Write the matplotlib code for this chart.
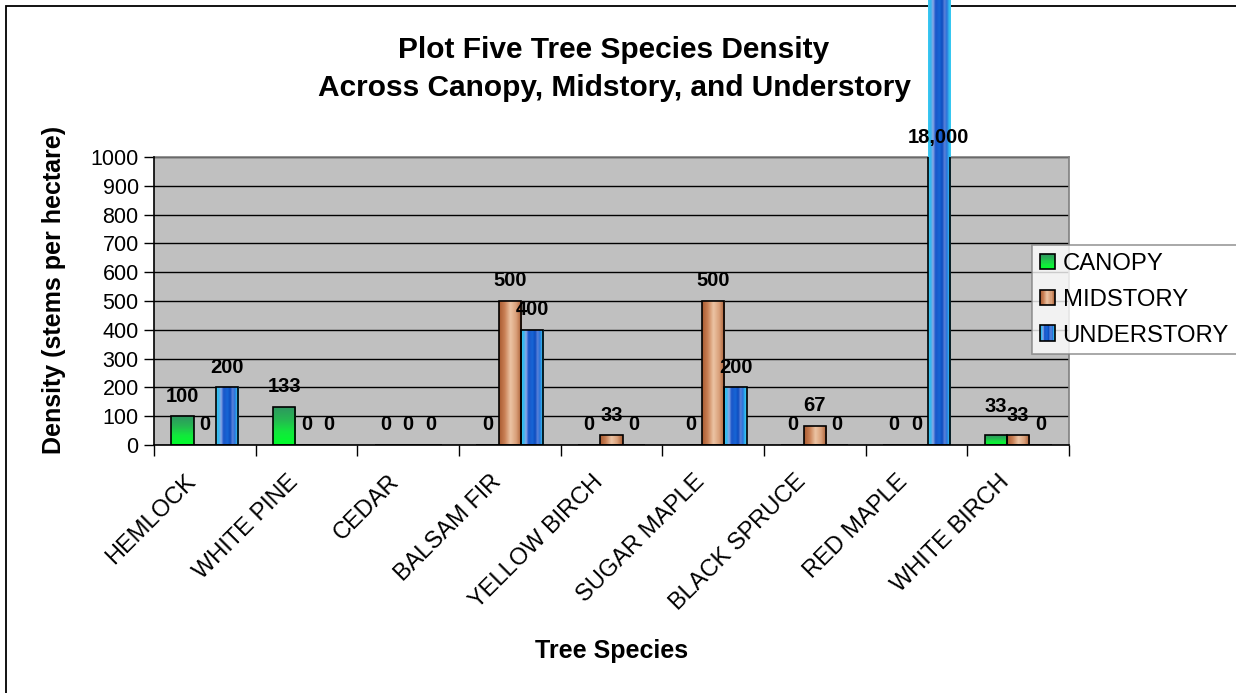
import numpy as np
import matplotlib
matplotlib.use("Agg")
import matplotlib.pyplot as plt
from matplotlib.colors import LinearSegmentedColormap
from matplotlib.patches import Rectangle
from matplotlib.legend_handler import HandlerBase
from matplotlib.transforms import ScaledTranslation

plt.rcParams['font.family'] = ['Liberation Sans', 'DejaVu Sans']

# ---------------- data ----------------
species = ['HEMLOCK', 'WHITE PINE', 'CEDAR', 'BALSAM FIR', 'YELLOW BIRCH',
           'SUGAR MAPLE', 'BLACK SPRUCE', 'RED MAPLE', 'WHITE BIRCH']
series_names = ['CANOPY', 'MIDSTORY', 'UNDERSTORY']
canopy = [100, 133, 0, 0, 0, 0, 0, 0, 33]
midstory = [0, 0, 0, 500, 33, 500, 67, 0, 33]
understory = [200, 0, 0, 400, 0, 200, 0, 18000, 0]
yticks = [0, 100, 200, 300, 400, 500, 600, 700, 800, 900, 1000]

title_line1 = 'Plot Five Tree Species Density'
title_line2 = 'Across Canopy, Midstory, and Understory'
xlabel = 'Tree Species'
ylabel = 'Density (stems per hectare)'

# ---------------- styles ----------------
cm_canopy = LinearSegmentedColormap.from_list(
    'can', ['#00FF2A', '#12E83C', '#26B552', '#2F9560'])  # bottom -> top
cm_mid = LinearSegmentedColormap.from_list(
    'mid', ['#A85A30', '#C98055', '#ECC4A4', '#D9A07A', '#A85A30'])  # left -> right
cm_under = LinearSegmentedColormap.from_list(
    'und', [(0.0, '#38CCF2'), (0.12, '#35B5EE'), (0.22, '#8CA8E6'),
            (0.33, '#1A56C8'), (0.5, '#1766D6'), (0.62, '#0E4CBE'),
            (0.72, '#5B82DA'), (0.82, '#2A72DA'), (0.92, '#33BCF0'),
            (1.0, '#38CCF2')])
series_styles = [(cm_canopy, True), (cm_mid, False), (cm_under, False)]

W, H = 1236, 693
fig = plt.figure(figsize=(W / 100, H / 100), dpi=100)
fig.patch.set_facecolor('white')

# outer chart border
fig.add_artist(Rectangle((6 / W, -0.1), 1.2, 1 - 6 / H + 0.1,
                         transform=fig.transFigure, fill=False,
                         edgecolor='black', lw=1.3, zorder=-1))

left, right, top, bottom = 154, 1069, 157, 445
ax = fig.add_axes([left / W, 1 - bottom / H, (right - left) / W, (bottom - top) / H])
ax.set_facecolor('#C0C0C0')
ax.set_axisbelow(True)
ax.set_xlim(-0.5, len(species) - 0.5)
ax.set_ylim(yticks[0], yticks[-1])

x = np.arange(len(species))
bw = 0.22
all_series = [canopy, midstory, understory]
ymax = yticks[-1]
px_per_unit = (bottom - top) / (yticks[-1] - yticks[0])

for j, (vals, (cmap, vertical)) in enumerate(zip(all_series, series_styles)):
    bars = ax.bar(x + (j - 1) * bw, vals, width=bw, facecolor='none',
                  edgecolor='black', linewidth=1.2, zorder=2)
    for p in bars:
        h = p.get_height()
        if h <= 0:
            continue
        x0, y0 = p.get_xy()
        w = p.get_width()
        if vertical:
            arr = np.linspace(0, 1, 256).reshape(-1, 1)
        else:
            arr = np.linspace(0, 1, 256).reshape(1, -1)
        im = ax.imshow(arr, cmap=cmap, extent=[x0, x0 + w, y0, y0 + h],
                       aspect='auto', origin='lower', interpolation='bilinear',
                       zorder=1.5)
        im.set_clip_path(p)

# data labels (with a small bump when two wide labels would collide)
for i in range(len(species)):
    vals_i = [s[i] for s in all_series]
    for j, v in enumerate(vals_i):
        off = 20
        if j + 1 < len(vals_i):
            nxt = vals_i[j + 1]
            if (len(f'{v:,}') >= 2 and len(f'{nxt:,}') >= 2 and
                    abs(min(v, ymax) - min(nxt, ymax)) * px_per_unit < 12):
                off = 29
        ax.annotate(f'{v:,}', xy=(x[i] + (j - 1) * bw, min(v, ymax)),
                    xytext=(0, off), textcoords='offset pixels',
                    ha='center', va='center', fontsize=14.5,
                    fontweight='bold', annotation_clip=False, zorder=4)

ax.set_yticks(yticks)
ax.set_yticklabels([str(t) for t in yticks], fontsize=15.5)
ax.yaxis.grid(True, color='black', lw=1)
ax.tick_params(axis='y', length=7, width=1, direction='out', pad=4, colors='black')

ax.set_xticks(x)
ax.set_xticklabels(species, rotation=45, ha='right', va='center',
                   rotation_mode='anchor', fontsize=17)
ax.set_xticks(np.arange(-0.5, len(species), 1), minor=True)
ax.tick_params(axis='x', which='major', length=0, pad=24)
ax.tick_params(axis='x', which='minor', length=8, width=1, direction='out')
shift = ScaledTranslation(-12 / 100, 0, fig.dpi_scale_trans)
for lab in ax.get_xticklabels():
    lab.set_transform(lab.get_transform() + shift)

for s in ['left', 'bottom']:
    ax.spines[s].set_color('black')
    ax.spines[s].set_linewidth(1.2)
for s in ['top', 'right']:
    ax.spines[s].set_color('#808080')
    ax.spines[s].set_linewidth(1.2)
ax.spines['top'].set_zorder(1)

# titles / axis labels
fig.text(614 / W, 1 - 50 / H, title_line1, ha='center', va='center',
         fontsize=21.5, fontweight='bold')
fig.text(614 / W, 1 - 88 / H, title_line2, ha='center', va='center',
         fontsize=21.5, fontweight='bold')
fig.text(612 / W, 1 - 651 / H, xlabel, ha='center', va='center',
         fontsize=18, fontweight='bold')
fig.text(54 / W, 1 - 290 / H, ylabel, ha='center', va='center', rotation=90,
         fontsize=18, fontweight='bold')


class GradHandler(HandlerBase):
    def __init__(self, cmap, vertical):
        super().__init__()
        self.cmap = cmap
        self.vertical = vertical

    def create_artists(self, legend, orig_handle, xdescent, ydescent,
                       width, height, fontsize, trans):
        n = 14
        arts = []
        for k in range(n):
            c = self.cmap((k + 0.5) / n)
            if self.vertical:
                r = Rectangle((-xdescent, -ydescent + height * k / n), width,
                              height / n, facecolor=c, edgecolor='none',
                              transform=trans)
            else:
                r = Rectangle((-xdescent + width * k / n, -ydescent), width / n,
                              height, facecolor=c, edgecolor='none',
                              transform=trans)
            arts.append(r)
        arts.append(Rectangle((-xdescent, -ydescent), width, height,
                              facecolor='none', edgecolor='black', lw=1.2,
                              transform=trans))
        return arts


handles = [Rectangle((0, 0), 1, 1) for _ in series_names]
hmap = {h: GradHandler(cm, v) for h, (cm, v) in zip(handles, series_styles)}
leg = fig.legend(handles, series_names, handler_map=hmap, loc='upper left',
                 bbox_to_anchor=(1032 / W, 1 - 245 / H), borderaxespad=0,
                 fontsize=17.2, handlelength=0.62, handleheight=0.62,
                 handletextpad=0.33, labelspacing=0.58, borderpad=0.33,
                 fancybox=False, frameon=True)
leg.get_frame().set_edgecolor('#808080')
leg.get_frame().set_linewidth(1.2)
leg.get_frame().set_facecolor('white')

fig.savefig('out.png', dpi=100)
